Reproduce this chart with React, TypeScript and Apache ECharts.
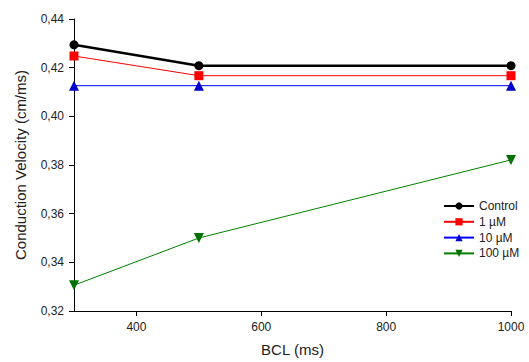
import React, { useEffect, useRef } from "react";
import * as echarts from "echarts";

const bcl = [300, 500, 1000];
const control = [0.4294, 0.4208, 0.4208];
const um1 = [0.4248, 0.4167, 0.4167];
const um10 = [0.4126, 0.4126, 0.4126];
const um100 = [0.3306, 0.35, 0.3821];
const xTicks = [400, 600, 800, 1000];
const yTicks = [0.32, 0.34, 0.36, 0.38, 0.4, 0.42, 0.44];

const FONT = "Liberation Sans, Arial, sans-serif";

export default function App() {
  const ref = useRef<HTMLDivElement>(null);
  useEffect(() => {
    document.body.style.margin = "0";
    const chart = echarts.init(ref.current!, null, { renderer: "svg" });
    const mk = (arr: number[]) => bcl.map((x, i) => [x, arr[i]]);
    const fmt = (v: number) => v.toFixed(2).replace(".", ",");
    chart.setOption({
      animation: false,
      grid: { left: 74, right: 18, top: 19, bottom: 50 },
      xAxis: {
        type: "value",
        min: 300,
        max: 1000,
        name: "BCL (ms)",
        nameLocation: "middle",
        nameGap: 31,
        nameTextStyle: { fontFamily: FONT, fontSize: 15, color: "#222" },
        axisLine: { show: true, lineStyle: { color: "#000", width: 1 } },
        axisTick: { show: true, customValues: xTicks, length: 5, lineStyle: { color: "#000" } },
        axisLabel: {
          customValues: xTicks,
          fontFamily: FONT,
          fontSize: 12,
          color: "#222",
          margin: 10,
          formatter: (v: number) => String(v),
        },
        splitLine: { show: false },
      },
      yAxis: {
        type: "value",
        min: 0.32,
        max: 0.44,
        name: "Conduction Velocity (cm/ms)",
        nameLocation: "middle",
        nameGap: 46,
        nameTextStyle: { fontFamily: FONT, fontSize: 15, color: "#222" },
        axisLine: { show: true, lineStyle: { color: "#000", width: 1 } },
        axisTick: { show: true, customValues: yTicks, length: 5, lineStyle: { color: "#000" } },
        axisLabel: {
          customValues: yTicks,
          fontFamily: FONT,
          fontSize: 12,
          color: "#222",
          margin: 10,
          formatter: (v: number) => fmt(v),
        },
        splitLine: { show: false },
      },
      legend: {
        orient: "vertical",
        left: 443,
        top: 200,
        padding: 0,
        itemWidth: 30,
        itemHeight: 9,
        itemGap: 3.8,
        textStyle: { fontFamily: FONT, fontSize: 12, color: "#222" },
        data: ["Control", "1 µM", "10 µM", "100 µM"],
      },
      series: [
        {
          name: "Control",
          type: "line",
          data: mk(control),
          symbol: "circle",
          symbolSize: 9,
          lineStyle: { color: "#000", width: 2.5 },
          itemStyle: { color: "#000" },
          z: 4,
        },
        {
          name: "1 µM",
          type: "line",
          data: mk(um1),
          symbol: "rect",
          symbolSize: 9,
          lineStyle: { color: "#ff0000", width: 1 },
          itemStyle: { color: "#ff0000" },
          z: 3,
        },
        {
          name: "10 µM",
          type: "line",
          data: mk(um10),
          symbol: "triangle",
          symbolSize: 10,
          lineStyle: { color: "#0000ff", width: 1 },
          itemStyle: { color: "#0000cc" },
          z: 2,
        },
        {
          name: "100 µM",
          type: "line",
          data: mk(um100),
          symbol: "triangle",
          symbolRotate: 180,
          symbolSize: 10,
          lineStyle: { color: "#008000", width: 1 },
          itemStyle: { color: "#007000" },
          z: 1,
        },
      ],
    });
    return () => chart.dispose();
  }, []);
  return <div ref={ref} style={{ width: 529, height: 362 }} />;
}
